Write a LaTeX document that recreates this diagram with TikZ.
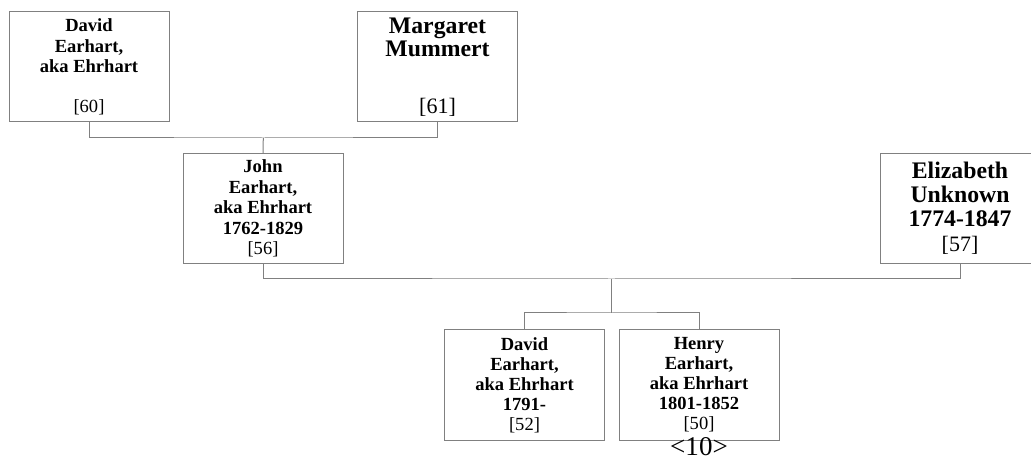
\documentclass[tikz,border=0pt]{standalone}
\usepackage{fontspec}
\setmainfont{Liberation Serif}
\definecolor{linegray}{RGB}{128,128,128}
\begin{document}
\begin{tikzpicture}[x=0.75pt,y=-0.75pt,
  box/.style={draw=linegray,line width=0.75pt,minimum width=120pt,minimum height=82.5pt,inner sep=0pt,align=center},
  conn/.style={draw=linegray,line width=0.75pt},
  smallf/.style={font=\fontsize{13.9}{15.4}\selectfont\bfseries},
  bigf/.style={font=\fontsize{17.8}{17.5}\selectfont\bfseries}]
\clip (0,0) rectangle (1031,466);
\useasboundingbox (0,0) rectangle (1031,466);
\node[box,smallf] (d1) at (89,67) {David\\Earhart,\\aka Ehrhart\\[14.6pt]\mdseries [60]};
\node[box,bigf] (mm) at (437.5,67) {Margaret\\Mummert\\[25pt]\mdseries\fontsize{16.5}{17.5}\selectfont [61]};
\node[box,smallf] (jn) at (263,208.5) {John\\Earhart,\\aka Ehrhart\\1762-1829\\\mdseries [56]};
\node[box,font=\fontsize{17.8}{18}\selectfont\bfseries] (el) at (960,208.5) {Elizabeth\\Unknown\\1774-1847\\[1pt]\mdseries\fontsize{16.5}{18}\selectfont [57]};
\node[box,font=\fontsize{13.9}{15}\selectfont\bfseries] (d2) at (524.5,385) {David\\Earhart,\\aka Ehrhart\\1791-\\\mdseries [52]};
\node[box,font=\fontsize{13.9}{15}\selectfont\bfseries] (hn) at (699,385) {Henry\\Earhart,\\aka Ehrhart\\1801-1852\\\mdseries [50]};
\node[anchor=base,inner sep=0pt,font=\fontsize{20.3}{22}\selectfont] (pg) at (699,455) {<10>};
\coordinate (j1) at (263.3,138);
\coordinate (j2) at (611.5,279);
\coordinate (j3) at (611.5,313);
\draw[conn] (d1.south) |- (j1) -| (mm.south);
\draw[conn] (j1) -- (jn.north);
\draw[conn] (jn.south) |- (j2) -| (el.south);
\draw[conn] (j2) -- (j3);
\draw[conn] (d2.north) |- (j3) -| (hn.north);
\end{tikzpicture}
\end{document}
